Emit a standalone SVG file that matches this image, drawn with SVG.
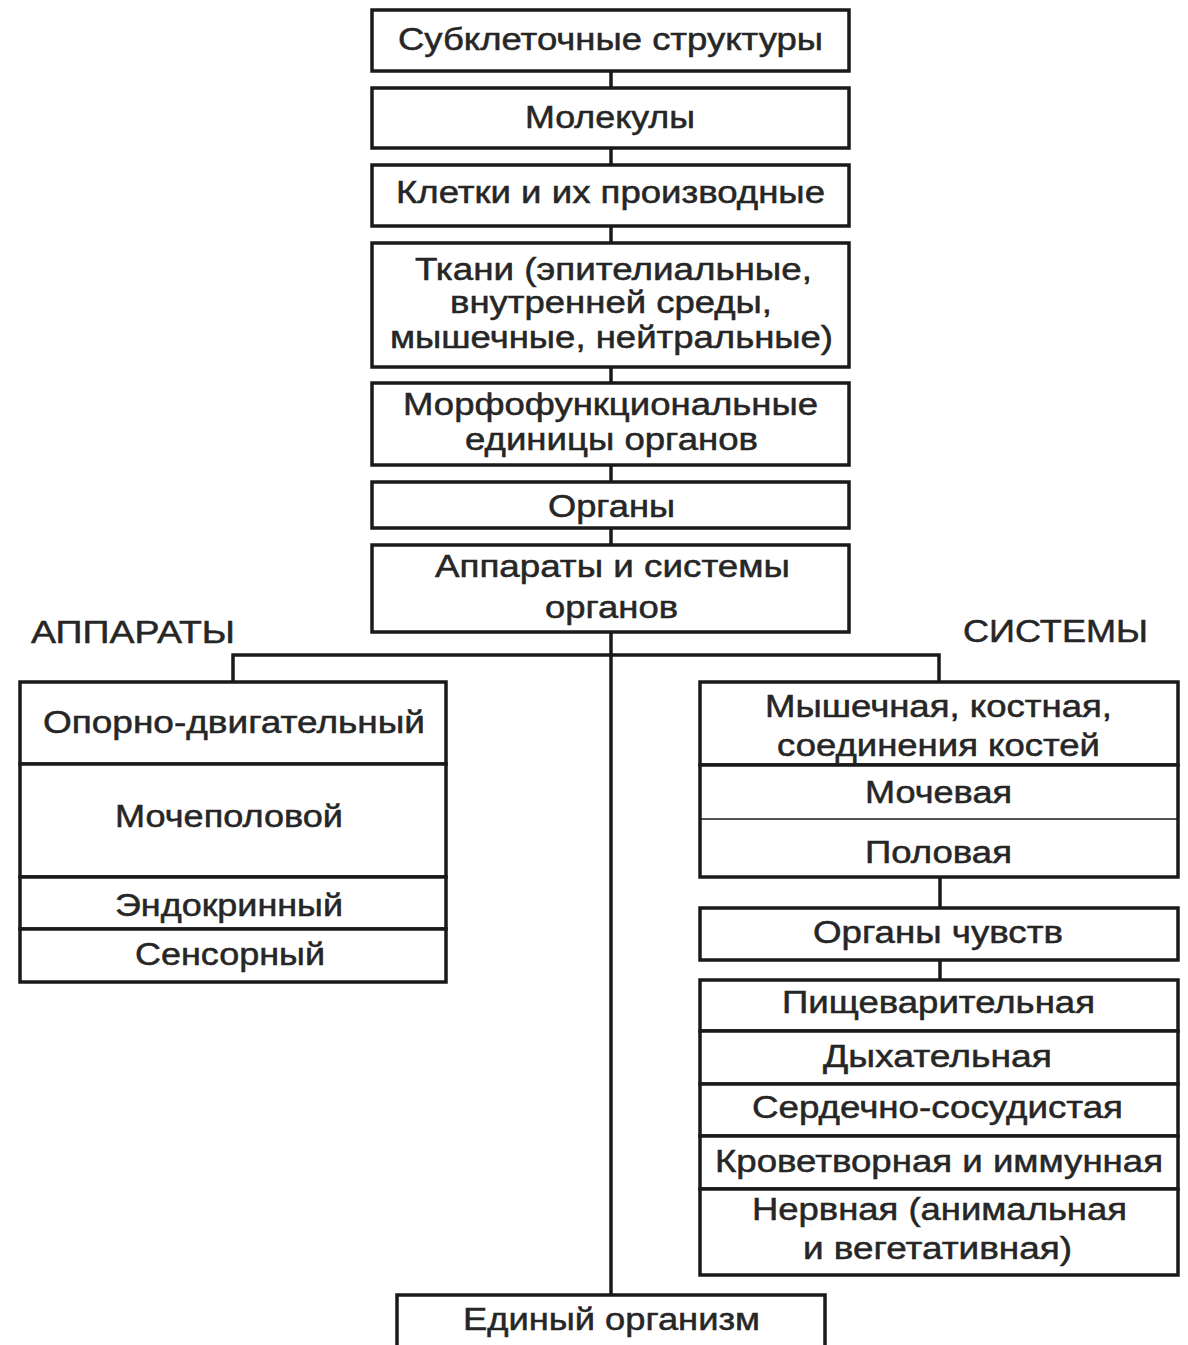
<svg xmlns="http://www.w3.org/2000/svg" width="1188" height="1345" viewBox="0 0 1188 1345">
<style>
  .box { fill: #ffffff; stroke: #1a1a1a; stroke-width: 3.5; }
  .thin { stroke: #1a1a1a; stroke-width: 1.6; fill: none; }
  .conn { stroke: #1a1a1a; stroke-width: 3.5; fill: none; }
  text { font-family: "Liberation Sans", Arial, sans-serif; font-size: 31px; fill: #262626; stroke: #262626; stroke-width: 0.5; text-anchor: middle; }
  .lbl { text-anchor: start; }
</style>
<rect x="0" y="0" width="1188" height="1345" fill="#ffffff"/>
<g id="connectors">
  <line class="conn" x1="611" y1="71" x2="611" y2="88"/>
  <line class="conn" x1="611" y1="148" x2="611" y2="165"/>
  <line class="conn" x1="611" y1="226" x2="611" y2="243"/>
  <line class="conn" x1="611" y1="367" x2="611" y2="383"/>
  <line class="conn" x1="611" y1="465" x2="611" y2="482"/>
  <line class="conn" x1="611" y1="528" x2="611" y2="545"/>
  <line class="conn" x1="611" y1="632" x2="611" y2="1295"/>
  <polyline class="conn" points="233,682 233,655 939,655 939,682"/>
  <line class="conn" x1="940" y1="877" x2="940" y2="908"/>
  <line class="conn" x1="940" y1="960" x2="940" y2="980"/>
</g>
<g id="subcellular">
  <rect class="box" x="372" y="10" width="477" height="61"/>
  <text x="610.5" y="50" textLength="425" lengthAdjust="spacingAndGlyphs">Субклеточные структуры</text>
</g>
<g id="molecules">
  <rect class="box" x="372" y="88" width="477" height="60"/>
  <text x="610" y="128" textLength="170" lengthAdjust="spacingAndGlyphs">Молекулы</text>
</g>
<g id="cells">
  <rect class="box" x="372" y="165" width="477" height="61"/>
  <text x="610.5" y="203" textLength="429" lengthAdjust="spacingAndGlyphs">Клетки и их производные</text>
</g>
<g id="tissues">
  <rect class="box" x="372" y="243" width="477" height="124"/>
  <text x="613.5" y="280" textLength="397" lengthAdjust="spacingAndGlyphs">Ткани (эпителиальные,</text>
  <text x="611" y="313" textLength="322" lengthAdjust="spacingAndGlyphs">внутренней среды,</text>
  <text x="611.5" y="348" textLength="443" lengthAdjust="spacingAndGlyphs">мышечные, нейтральные)</text>
</g>
<g id="morpho-units">
  <rect class="box" x="372" y="383" width="477" height="82"/>
  <text x="610.5" y="415" textLength="415" lengthAdjust="spacingAndGlyphs">Морфофункциональные</text>
  <text x="611.5" y="450" textLength="293" lengthAdjust="spacingAndGlyphs">единицы органов</text>
</g>
<g id="organs">
  <rect class="box" x="372" y="482" width="477" height="46"/>
  <text x="611.5" y="517" textLength="127" lengthAdjust="spacingAndGlyphs">Органы</text>
</g>
<g id="apparatus-systems">
  <rect class="box" x="372" y="545" width="477" height="87"/>
  <text x="612.5" y="577" textLength="355" lengthAdjust="spacingAndGlyphs">Аппараты и системы</text>
  <text x="611.5" y="618" textLength="133" lengthAdjust="spacingAndGlyphs">органов</text>
</g>
<g id="label-apparatus">
  <text class="lbl" x="31" y="643" textLength="204" lengthAdjust="spacingAndGlyphs">АППАРАТЫ</text>
</g>
<g id="label-systems">
  <text class="lbl" x="963" y="642" textLength="185" lengthAdjust="spacingAndGlyphs">СИСТЕМЫ</text>
</g>
<g id="musculoskeletal-apparatus">
  <rect class="box" x="20" y="682" width="426" height="82"/>
  <text x="234" y="733" textLength="382" lengthAdjust="spacingAndGlyphs">Опорно-двигательный</text>
</g>
<g id="urogenital-apparatus">
  <rect class="box" x="20" y="764" width="426" height="113"/>
  <text x="229" y="827" textLength="228" lengthAdjust="spacingAndGlyphs">Мочеполовой</text>
</g>
<g id="endocrine-apparatus">
  <rect class="box" x="20" y="877" width="426" height="52"/>
  <text x="229" y="916" textLength="228" lengthAdjust="spacingAndGlyphs">Эндокринный</text>
</g>
<g id="sensory-apparatus">
  <rect class="box" x="20" y="929" width="426" height="53"/>
  <text x="230" y="965" textLength="190" lengthAdjust="spacingAndGlyphs">Сенсорный</text>
</g>
<g id="muscular-system">
  <rect class="box" x="700" y="682" width="478" height="83"/>
  <text x="938.5" y="717" textLength="347" lengthAdjust="spacingAndGlyphs">Мышечная, костная,</text>
  <text x="938.5" y="756" textLength="323" lengthAdjust="spacingAndGlyphs">соединения костей</text>
</g>
<g id="urinary-system">
  <rect class="box" x="700" y="765" width="478" height="112"/>
  <text x="938.5" y="803" textLength="147" lengthAdjust="spacingAndGlyphs">Мочевая</text>
</g>
<g id="genital-system">
  <line class="thin" x1="700" y1="819" x2="1178" y2="819"/>
  <text x="938.5" y="863" textLength="147" lengthAdjust="spacingAndGlyphs">Половая</text>
</g>
<g id="sense-organs">
  <rect class="box" x="700" y="908" width="478" height="52"/>
  <text x="938" y="943" textLength="250" lengthAdjust="spacingAndGlyphs">Органы чувств</text>
</g>
<g id="digestive-system">
  <rect class="box" x="700" y="980" width="478" height="51"/>
  <text x="938.5" y="1013" textLength="313" lengthAdjust="spacingAndGlyphs">Пищеварительная</text>
</g>
<g id="respiratory-system">
  <rect class="box" x="700" y="1031" width="478" height="53"/>
  <text x="937.5" y="1067" textLength="229" lengthAdjust="spacingAndGlyphs">Дыхательная</text>
</g>
<g id="cardiovascular-system">
  <rect class="box" x="700" y="1084" width="478" height="52"/>
  <text x="937.5" y="1118" textLength="371" lengthAdjust="spacingAndGlyphs">Сердечно-сосудистая</text>
</g>
<g id="hematopoietic-immune-system">
  <rect class="box" x="700" y="1136" width="478" height="53"/>
  <text x="939" y="1172" textLength="448" lengthAdjust="spacingAndGlyphs">Кроветворная и иммунная</text>
</g>
<g id="nervous-system">
  <rect class="box" x="700" y="1189" width="478" height="86"/>
  <text x="939.5" y="1220" textLength="375" lengthAdjust="spacingAndGlyphs">Нервная (анимальная</text>
  <text x="937.5" y="1259" textLength="269" lengthAdjust="spacingAndGlyphs">и вегетативная)</text>
</g>
<g id="whole-organism">
  <rect class="box" x="397" y="1295" width="428" height="70"/>
  <text x="611.5" y="1330" textLength="297" lengthAdjust="spacingAndGlyphs">Единый организм</text>
</g>
</svg>
